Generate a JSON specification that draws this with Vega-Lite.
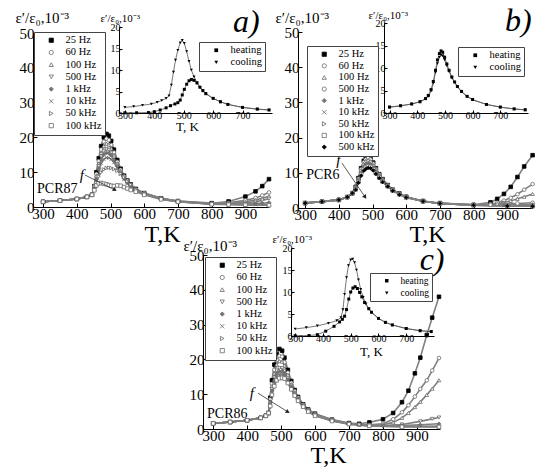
{
  "$schema": "https://vega.github.io/schema/vega-lite/v6.json",
  "width": 550,
  "height": 473,
  "autosize": "none",
  "padding": 0,
  "background": "white",
  "config": {
    "font": "Liberation Serif",
    "view": {"stroke": null},
    "axis": {"grid": false, "labelFont": "Liberation Serif", "titleFont": "Liberation Serif", "labelColor": "black", "titleColor": "black", "domainColor": "black", "tickColor": "black", "titleFontWeight": "normal", "labelFlush": false, "labelOverlap": false, "titleAngle": 0, "titlePadding": 0},
    "legend": {"orient": "none", "title": null, "labelFont": "Liberation Serif", "labelFontSize": 10.5, "labelColor": "black", "symbolSize": 18, "strokeColor": "#444", "fillColor": "white", "padding": 3, "rowPadding": 1.2, "symbolOffset": 9, "labelOffset": 9, "symbolStrokeWidth": 0.8}
  },
  "datasets": {
    "a": [
      {"f":"25 Hz","T":300,"e":1.5},{"f":"25 Hz","T":350,"e":1.85},{"f":"25 Hz","T":400,"e":2.3},{"f":"25 Hz","T":430,"e":2.9},{"f":"25 Hz","T":445,"e":3.5},{"f":"25 Hz","T":452,"e":6},{"f":"25 Hz","T":458,"e":10},{"f":"25 Hz","T":465,"e":14},{"f":"25 Hz","T":472,"e":17.5},{"f":"25 Hz","T":480,"e":20},{"f":"25 Hz","T":488,"e":21},{"f":"25 Hz","T":495,"e":20.5},{"f":"25 Hz","T":502,"e":19},{"f":"25 Hz","T":510,"e":16.5},{"f":"25 Hz","T":520,"e":13.5},{"f":"25 Hz","T":530,"e":11},{"f":"25 Hz","T":540,"e":9},{"f":"25 Hz","T":550,"e":7.6},{"f":"25 Hz","T":560,"e":6.5},{"f":"25 Hz","T":575,"e":5.2},{"f":"25 Hz","T":600,"e":4},{"f":"25 Hz","T":650,"e":2.5},{"f":"25 Hz","T":700,"e":1.7},{"f":"25 Hz","T":800,"e":1.1},{"f":"25 Hz","T":850,"e":1.6},{"f":"25 Hz","T":900,"e":3},{"f":"25 Hz","T":930,"e":4.5},{"f":"25 Hz","T":950,"e":6},{"f":"25 Hz","T":970,"e":8},
      {"f":"60 Hz","T":300,"e":1.5},{"f":"60 Hz","T":350,"e":1.85},{"f":"60 Hz","T":400,"e":2.3},{"f":"60 Hz","T":430,"e":2.9},{"f":"60 Hz","T":445,"e":3.5},{"f":"60 Hz","T":452,"e":6},{"f":"60 Hz","T":458,"e":9.5},{"f":"60 Hz","T":465,"e":13.2},{"f":"60 Hz","T":472,"e":16.5},{"f":"60 Hz","T":480,"e":18.8},{"f":"60 Hz","T":488,"e":19.6},{"f":"60 Hz","T":495,"e":19.2},{"f":"60 Hz","T":502,"e":17.8},{"f":"60 Hz","T":510,"e":15.7},{"f":"60 Hz","T":520,"e":13},{"f":"60 Hz","T":530,"e":10.7},{"f":"60 Hz","T":540,"e":8.8},{"f":"60 Hz","T":550,"e":7.5},{"f":"60 Hz","T":560,"e":6.4},{"f":"60 Hz","T":575,"e":5.1},{"f":"60 Hz","T":600,"e":4},{"f":"60 Hz","T":650,"e":2.5},{"f":"60 Hz","T":700,"e":1.7},{"f":"60 Hz","T":800,"e":1},{"f":"60 Hz","T":850,"e":1.2},{"f":"60 Hz","T":900,"e":1.9},{"f":"60 Hz","T":930,"e":2.6},{"f":"60 Hz","T":950,"e":3.3},{"f":"60 Hz","T":970,"e":4.2},
      {"f":"100 Hz","T":300,"e":1.5},{"f":"100 Hz","T":350,"e":1.85},{"f":"100 Hz","T":400,"e":2.3},{"f":"100 Hz","T":430,"e":2.9},{"f":"100 Hz","T":445,"e":3.5},{"f":"100 Hz","T":452,"e":5.8},{"f":"100 Hz","T":458,"e":9},{"f":"100 Hz","T":465,"e":12.5},{"f":"100 Hz","T":472,"e":15.5},{"f":"100 Hz","T":480,"e":17.5},{"f":"100 Hz","T":488,"e":18.2},{"f":"100 Hz","T":495,"e":17.9},{"f":"100 Hz","T":502,"e":16.8},{"f":"100 Hz","T":510,"e":15},{"f":"100 Hz","T":520,"e":12.6},{"f":"100 Hz","T":530,"e":10.4},{"f":"100 Hz","T":540,"e":8.6},{"f":"100 Hz","T":550,"e":7.3},{"f":"100 Hz","T":560,"e":6.3},{"f":"100 Hz","T":575,"e":5},{"f":"100 Hz","T":600,"e":3.9},{"f":"100 Hz","T":650,"e":2.5},{"f":"100 Hz","T":700,"e":1.6},{"f":"100 Hz","T":800,"e":1},{"f":"100 Hz","T":850,"e":1.1},{"f":"100 Hz","T":900,"e":1.5},{"f":"100 Hz","T":930,"e":2},{"f":"100 Hz","T":950,"e":2.5},{"f":"100 Hz","T":970,"e":3.1},
      {"f":"500 Hz","T":300,"e":1.5},{"f":"500 Hz","T":350,"e":1.85},{"f":"500 Hz","T":400,"e":2.3},{"f":"500 Hz","T":430,"e":2.9},{"f":"500 Hz","T":445,"e":3.5},{"f":"500 Hz","T":452,"e":5.6},{"f":"500 Hz","T":458,"e":8.5},{"f":"500 Hz","T":465,"e":11.8},{"f":"500 Hz","T":472,"e":14.5},{"f":"500 Hz","T":480,"e":16},{"f":"500 Hz","T":488,"e":16.6},{"f":"500 Hz","T":495,"e":16.4},{"f":"500 Hz","T":502,"e":15.6},{"f":"500 Hz","T":510,"e":14.2},{"f":"500 Hz","T":520,"e":12.1},{"f":"500 Hz","T":530,"e":10.1},{"f":"500 Hz","T":540,"e":8.4},{"f":"500 Hz","T":550,"e":7.1},{"f":"500 Hz","T":560,"e":6.1},{"f":"500 Hz","T":575,"e":4.9},{"f":"500 Hz","T":600,"e":3.8},{"f":"500 Hz","T":650,"e":2.4},{"f":"500 Hz","T":700,"e":1.6},{"f":"500 Hz","T":800,"e":0.9},{"f":"500 Hz","T":850,"e":1},{"f":"500 Hz","T":900,"e":1.2},{"f":"500 Hz","T":930,"e":1.5},{"f":"500 Hz","T":950,"e":1.9},{"f":"500 Hz","T":970,"e":2.4},
      {"f":"1 kHz","T":300,"e":1.5},{"f":"1 kHz","T":350,"e":1.85},{"f":"1 kHz","T":400,"e":2.3},{"f":"1 kHz","T":430,"e":2.9},{"f":"1 kHz","T":445,"e":3.5},{"f":"1 kHz","T":452,"e":5.4},{"f":"1 kHz","T":458,"e":8},{"f":"1 kHz","T":465,"e":11},{"f":"1 kHz","T":472,"e":13.6},{"f":"1 kHz","T":480,"e":15},{"f":"1 kHz","T":488,"e":15.6},{"f":"1 kHz","T":495,"e":15.4},{"f":"1 kHz","T":502,"e":14.8},{"f":"1 kHz","T":510,"e":13.6},{"f":"1 kHz","T":520,"e":11.7},{"f":"1 kHz","T":530,"e":9.8},{"f":"1 kHz","T":540,"e":8.2},{"f":"1 kHz","T":550,"e":7},{"f":"1 kHz","T":560,"e":6},{"f":"1 kHz","T":575,"e":4.8},{"f":"1 kHz","T":600,"e":3.7},{"f":"1 kHz","T":650,"e":2.4},{"f":"1 kHz","T":700,"e":1.6},{"f":"1 kHz","T":800,"e":0.9},{"f":"1 kHz","T":850,"e":0.9},{"f":"1 kHz","T":900,"e":0.9},{"f":"1 kHz","T":930,"e":1},{"f":"1 kHz","T":950,"e":1.1},{"f":"1 kHz","T":970,"e":1.3},
      {"f":"10 kHz","T":300,"e":1.5},{"f":"10 kHz","T":350,"e":1.85},{"f":"10 kHz","T":400,"e":2.3},{"f":"10 kHz","T":430,"e":2.9},{"f":"10 kHz","T":445,"e":3.5},{"f":"10 kHz","T":452,"e":5.2},{"f":"10 kHz","T":458,"e":7.5},{"f":"10 kHz","T":465,"e":10.2},{"f":"10 kHz","T":472,"e":12.5},{"f":"10 kHz","T":480,"e":13.7},{"f":"10 kHz","T":488,"e":14.2},{"f":"10 kHz","T":495,"e":14.1},{"f":"10 kHz","T":502,"e":13.7},{"f":"10 kHz","T":510,"e":12.8},{"f":"10 kHz","T":520,"e":11.2},{"f":"10 kHz","T":530,"e":9.5},{"f":"10 kHz","T":540,"e":8},{"f":"10 kHz","T":550,"e":6.8},{"f":"10 kHz","T":560,"e":5.9},{"f":"10 kHz","T":575,"e":4.7},{"f":"10 kHz","T":600,"e":3.6},{"f":"10 kHz","T":650,"e":2.3},{"f":"10 kHz","T":700,"e":1.5},{"f":"10 kHz","T":800,"e":0.9},{"f":"10 kHz","T":850,"e":0.8},{"f":"10 kHz","T":900,"e":0.8},{"f":"10 kHz","T":930,"e":0.7},{"f":"10 kHz","T":970,"e":0.7},
      {"f":"50 kHz","T":300,"e":1.5},{"f":"50 kHz","T":350,"e":1.85},{"f":"50 kHz","T":400,"e":2.3},{"f":"50 kHz","T":430,"e":2.9},{"f":"50 kHz","T":445,"e":3.5},{"f":"50 kHz","T":452,"e":5},{"f":"50 kHz","T":458,"e":7},{"f":"50 kHz","T":465,"e":8.8},{"f":"50 kHz","T":472,"e":10},{"f":"50 kHz","T":480,"e":10.8},{"f":"50 kHz","T":488,"e":11.2},{"f":"50 kHz","T":495,"e":11.3},{"f":"50 kHz","T":502,"e":11.2},{"f":"50 kHz","T":510,"e":10.9},{"f":"50 kHz","T":520,"e":10.4},{"f":"50 kHz","T":530,"e":9.6},{"f":"50 kHz","T":540,"e":8.6},{"f":"50 kHz","T":550,"e":7.4},{"f":"50 kHz","T":560,"e":6.4},{"f":"50 kHz","T":575,"e":5},{"f":"50 kHz","T":600,"e":3.7},{"f":"50 kHz","T":650,"e":2.3},{"f":"50 kHz","T":700,"e":1.5},{"f":"50 kHz","T":800,"e":0.8},{"f":"50 kHz","T":850,"e":0.7},{"f":"50 kHz","T":900,"e":0.6},{"f":"50 kHz","T":970,"e":0.6},
      {"f":"100 kHz","T":300,"e":1.5},{"f":"100 kHz","T":350,"e":1.85},{"f":"100 kHz","T":400,"e":2.3},{"f":"100 kHz","T":430,"e":2.9},{"f":"100 kHz","T":445,"e":3.5},{"f":"100 kHz","T":452,"e":4.8},{"f":"100 kHz","T":458,"e":6.2},{"f":"100 kHz","T":465,"e":6.8},{"f":"100 kHz","T":472,"e":6.9},{"f":"100 kHz","T":480,"e":6.7},{"f":"100 kHz","T":488,"e":6.5},{"f":"100 kHz","T":495,"e":6.3},{"f":"100 kHz","T":502,"e":6.1},{"f":"100 kHz","T":510,"e":6},{"f":"100 kHz","T":520,"e":6.2},{"f":"100 kHz","T":530,"e":6.1},{"f":"100 kHz","T":540,"e":5.7},{"f":"100 kHz","T":550,"e":5.3},{"f":"100 kHz","T":560,"e":4.9},{"f":"100 kHz","T":575,"e":4.4},{"f":"100 kHz","T":600,"e":3.5},{"f":"100 kHz","T":650,"e":2.2},{"f":"100 kHz","T":700,"e":1.5},{"f":"100 kHz","T":800,"e":0.8},{"f":"100 kHz","T":850,"e":0.7},{"f":"100 kHz","T":900,"e":0.6},{"f":"100 kHz","T":970,"e":0.5}
    ],
    "ai": [
      {"m":"cooling","T":300,"e":1.3},{"m":"cooling","T":330,"e":1.5},{"m":"cooling","T":360,"e":1.8},{"m":"cooling","T":390,"e":2.1},{"m":"cooling","T":410,"e":2.5},{"m":"cooling","T":425,"e":2.9},{"m":"cooling","T":440,"e":3.4},{"m":"cooling","T":450,"e":4},{"m":"cooling","T":458,"e":6.5},{"m":"cooling","T":465,"e":9.5},{"m":"cooling","T":472,"e":12.3},{"m":"cooling","T":480,"e":14.6},{"m":"cooling","T":488,"e":16.3},{"m":"cooling","T":495,"e":16.9},{"m":"cooling","T":502,"e":16.2},{"m":"cooling","T":510,"e":14.3},{"m":"cooling","T":518,"e":12},{"m":"cooling","T":526,"e":10},{"m":"cooling","T":535,"e":8.4},{"m":"cooling","T":545,"e":7},{"m":"cooling","T":555,"e":6},{"m":"cooling","T":565,"e":5.2},{"m":"cooling","T":575,"e":4.5},{"m":"cooling","T":600,"e":3.4},{"m":"cooling","T":625,"e":2.6},{"m":"cooling","T":650,"e":2},{"m":"cooling","T":700,"e":1.3},{"m":"cooling","T":750,"e":0.9},{"m":"cooling","T":790,"e":0.7},
      {"m":"heating","T":300,"e":0.05},{"m":"heating","T":340,"e":0.05},{"m":"heating","T":380,"e":0.1},{"m":"heating","T":400,"e":0.3},{"m":"heating","T":420,"e":0.7},{"m":"heating","T":440,"e":1.2},{"m":"heating","T":455,"e":1.7},{"m":"heating","T":470,"e":2.1},{"m":"heating","T":480,"e":2.4},{"m":"heating","T":488,"e":3},{"m":"heating","T":495,"e":4.2},{"m":"heating","T":502,"e":5.5},{"m":"heating","T":510,"e":6.7},{"m":"heating","T":518,"e":7.5},{"m":"heating","T":526,"e":7.8},{"m":"heating","T":535,"e":7.6},{"m":"heating","T":545,"e":7},{"m":"heating","T":555,"e":6},{"m":"heating","T":565,"e":5.2},{"m":"heating","T":575,"e":4.5},{"m":"heating","T":600,"e":3.4},{"m":"heating","T":625,"e":2.6},{"m":"heating","T":650,"e":2},{"m":"heating","T":700,"e":1.3},{"m":"heating","T":750,"e":0.9},{"m":"heating","T":790,"e":0.7}
    ],
    "b": [
      {"f":"25 Hz","T":300,"e":1.4},{"f":"25 Hz","T":350,"e":1.8},{"f":"25 Hz","T":400,"e":2.3},{"f":"25 Hz","T":425,"e":3.1},{"f":"25 Hz","T":440,"e":4.2},{"f":"25 Hz","T":450,"e":6},{"f":"25 Hz","T":458,"e":8.5},{"f":"25 Hz","T":466,"e":11.3},{"f":"25 Hz","T":474,"e":13.4},{"f":"25 Hz","T":480,"e":14.3},{"f":"25 Hz","T":487,"e":14.7},{"f":"25 Hz","T":494,"e":14.2},{"f":"25 Hz","T":502,"e":12.9},{"f":"25 Hz","T":510,"e":11.3},{"f":"25 Hz","T":520,"e":9.6},{"f":"25 Hz","T":530,"e":8.2},{"f":"25 Hz","T":545,"e":6.5},{"f":"25 Hz","T":560,"e":5.2},{"f":"25 Hz","T":580,"e":4.1},{"f":"25 Hz","T":600,"e":3.2},{"f":"25 Hz","T":650,"e":2},{"f":"25 Hz","T":700,"e":1.4},{"f":"25 Hz","T":800,"e":0.9},{"f":"25 Hz","T":850,"e":1.6},{"f":"25 Hz","T":870,"e":2.6},{"f":"25 Hz","T":890,"e":4},{"f":"25 Hz","T":910,"e":6},{"f":"25 Hz","T":930,"e":8.8},{"f":"25 Hz","T":950,"e":11.8},{"f":"25 Hz","T":975,"e":15},
      {"f":"60 Hz","T":300,"e":1.4},{"f":"60 Hz","T":350,"e":1.8},{"f":"60 Hz","T":400,"e":2.3},{"f":"60 Hz","T":425,"e":3.1},{"f":"60 Hz","T":440,"e":4.2},{"f":"60 Hz","T":450,"e":5.9},{"f":"60 Hz","T":458,"e":8.3},{"f":"60 Hz","T":466,"e":11},{"f":"60 Hz","T":474,"e":13},{"f":"60 Hz","T":480,"e":13.8},{"f":"60 Hz","T":487,"e":14.2},{"f":"60 Hz","T":494,"e":13.8},{"f":"60 Hz","T":502,"e":12.6},{"f":"60 Hz","T":510,"e":11.1},{"f":"60 Hz","T":520,"e":9.5},{"f":"60 Hz","T":530,"e":8.1},{"f":"60 Hz","T":545,"e":6.4},{"f":"60 Hz","T":560,"e":5.1},{"f":"60 Hz","T":580,"e":4},{"f":"60 Hz","T":600,"e":3.1},{"f":"60 Hz","T":650,"e":1.9},{"f":"60 Hz","T":700,"e":1.3},{"f":"60 Hz","T":800,"e":0.9},{"f":"60 Hz","T":850,"e":1.1},{"f":"60 Hz","T":870,"e":1.5},{"f":"60 Hz","T":890,"e":2.1},{"f":"60 Hz","T":910,"e":2.9},{"f":"60 Hz","T":930,"e":3.9},{"f":"60 Hz","T":950,"e":5.2},{"f":"60 Hz","T":975,"e":6.8},
      {"f":"100 Hz","T":300,"e":1.4},{"f":"100 Hz","T":350,"e":1.8},{"f":"100 Hz","T":400,"e":2.3},{"f":"100 Hz","T":425,"e":3.1},{"f":"100 Hz","T":440,"e":4.2},{"f":"100 Hz","T":450,"e":5.8},{"f":"100 Hz","T":458,"e":8.1},{"f":"100 Hz","T":466,"e":10.7},{"f":"100 Hz","T":474,"e":12.6},{"f":"100 Hz","T":480,"e":13.4},{"f":"100 Hz","T":487,"e":13.7},{"f":"100 Hz","T":494,"e":13.3},{"f":"100 Hz","T":502,"e":12.2},{"f":"100 Hz","T":510,"e":10.9},{"f":"100 Hz","T":520,"e":9.3},{"f":"100 Hz","T":530,"e":8},{"f":"100 Hz","T":545,"e":6.4},{"f":"100 Hz","T":560,"e":5.1},{"f":"100 Hz","T":580,"e":4},{"f":"100 Hz","T":600,"e":3.1},{"f":"100 Hz","T":650,"e":1.9},{"f":"100 Hz","T":700,"e":1.3},{"f":"100 Hz","T":800,"e":0.9},{"f":"100 Hz","T":850,"e":1},{"f":"100 Hz","T":870,"e":1.2},{"f":"100 Hz","T":890,"e":1.6},{"f":"100 Hz","T":910,"e":2},{"f":"100 Hz","T":930,"e":2.6},{"f":"100 Hz","T":950,"e":3.2},{"f":"100 Hz","T":975,"e":4},
      {"f":"500 Hz","T":300,"e":1.4},{"f":"500 Hz","T":350,"e":1.8},{"f":"500 Hz","T":400,"e":2.3},{"f":"500 Hz","T":425,"e":3.1},{"f":"500 Hz","T":440,"e":4.2},{"f":"500 Hz","T":450,"e":5.7},{"f":"500 Hz","T":458,"e":7.9},{"f":"500 Hz","T":466,"e":10.4},{"f":"500 Hz","T":474,"e":12.2},{"f":"500 Hz","T":480,"e":12.9},{"f":"500 Hz","T":487,"e":13.2},{"f":"500 Hz","T":494,"e":12.9},{"f":"500 Hz","T":502,"e":11.9},{"f":"500 Hz","T":510,"e":10.6},{"f":"500 Hz","T":520,"e":9.1},{"f":"500 Hz","T":530,"e":7.9},{"f":"500 Hz","T":545,"e":6.4},{"f":"500 Hz","T":560,"e":5.1},{"f":"500 Hz","T":580,"e":4},{"f":"500 Hz","T":600,"e":3.1},{"f":"500 Hz","T":650,"e":1.9},{"f":"500 Hz","T":700,"e":1.3},{"f":"500 Hz","T":800,"e":0.9},{"f":"500 Hz","T":850,"e":0.9},{"f":"500 Hz","T":890,"e":1.1},{"f":"500 Hz","T":930,"e":1.3},{"f":"500 Hz","T":975,"e":1.5},
      {"f":"1 kHz","T":300,"e":1.4},{"f":"1 kHz","T":350,"e":1.8},{"f":"1 kHz","T":400,"e":2.3},{"f":"1 kHz","T":425,"e":3.1},{"f":"1 kHz","T":440,"e":4.2},{"f":"1 kHz","T":450,"e":5.6},{"f":"1 kHz","T":458,"e":7.8},{"f":"1 kHz","T":466,"e":10.1},{"f":"1 kHz","T":474,"e":11.8},{"f":"1 kHz","T":480,"e":12.5},{"f":"1 kHz","T":487,"e":12.8},{"f":"1 kHz","T":494,"e":12.5},{"f":"1 kHz","T":502,"e":11.6},{"f":"1 kHz","T":510,"e":10.4},{"f":"1 kHz","T":520,"e":9},{"f":"1 kHz","T":530,"e":7.8},{"f":"1 kHz","T":545,"e":6.3},{"f":"1 kHz","T":560,"e":5.1},{"f":"1 kHz","T":580,"e":4},{"f":"1 kHz","T":600,"e":3.1},{"f":"1 kHz","T":650,"e":1.9},{"f":"1 kHz","T":700,"e":1.3},{"f":"1 kHz","T":800,"e":0.8},{"f":"1 kHz","T":890,"e":0.9},{"f":"1 kHz","T":975,"e":1},
      {"f":"10 kHz","T":300,"e":1.4},{"f":"10 kHz","T":350,"e":1.8},{"f":"10 kHz","T":400,"e":2.3},{"f":"10 kHz","T":425,"e":3.1},{"f":"10 kHz","T":440,"e":4.2},{"f":"10 kHz","T":450,"e":5.5},{"f":"10 kHz","T":458,"e":7.6},{"f":"10 kHz","T":466,"e":9.9},{"f":"10 kHz","T":474,"e":11.5},{"f":"10 kHz","T":480,"e":12.1},{"f":"10 kHz","T":487,"e":12.4},{"f":"10 kHz","T":494,"e":12.2},{"f":"10 kHz","T":502,"e":11.4},{"f":"10 kHz","T":510,"e":10.2},{"f":"10 kHz","T":520,"e":8.9},{"f":"10 kHz","T":530,"e":7.7},{"f":"10 kHz","T":545,"e":6.3},{"f":"10 kHz","T":560,"e":5},{"f":"10 kHz","T":580,"e":3.9},{"f":"10 kHz","T":600,"e":3},{"f":"10 kHz","T":650,"e":1.9},{"f":"10 kHz","T":700,"e":1.3},{"f":"10 kHz","T":800,"e":0.8},{"f":"10 kHz","T":890,"e":0.7},{"f":"10 kHz","T":975,"e":0.7},
      {"f":"50 kHz","T":300,"e":1.4},{"f":"50 kHz","T":350,"e":1.8},{"f":"50 kHz","T":400,"e":2.3},{"f":"50 kHz","T":425,"e":3.1},{"f":"50 kHz","T":440,"e":4.2},{"f":"50 kHz","T":450,"e":5.4},{"f":"50 kHz","T":458,"e":7.5},{"f":"50 kHz","T":466,"e":9.7},{"f":"50 kHz","T":474,"e":11.2},{"f":"50 kHz","T":480,"e":11.8},{"f":"50 kHz","T":487,"e":12.1},{"f":"50 kHz","T":494,"e":11.9},{"f":"50 kHz","T":502,"e":11.2},{"f":"50 kHz","T":510,"e":10.1},{"f":"50 kHz","T":520,"e":8.8},{"f":"50 kHz","T":530,"e":7.6},{"f":"50 kHz","T":545,"e":6.2},{"f":"50 kHz","T":560,"e":5},{"f":"50 kHz","T":580,"e":3.9},{"f":"50 kHz","T":600,"e":3},{"f":"50 kHz","T":650,"e":1.9},{"f":"50 kHz","T":700,"e":1.3},{"f":"50 kHz","T":800,"e":0.8},{"f":"50 kHz","T":900,"e":0.6},{"f":"50 kHz","T":975,"e":0.5},
      {"f":"100 kHz","T":300,"e":1.4},{"f":"100 kHz","T":350,"e":1.8},{"f":"100 kHz","T":400,"e":2.3},{"f":"100 kHz","T":425,"e":3.1},{"f":"100 kHz","T":440,"e":4.2},{"f":"100 kHz","T":450,"e":5.3},{"f":"100 kHz","T":458,"e":7.4},{"f":"100 kHz","T":466,"e":9.5},{"f":"100 kHz","T":474,"e":11},{"f":"100 kHz","T":480,"e":11.5},{"f":"100 kHz","T":487,"e":11.8},{"f":"100 kHz","T":494,"e":11.7},{"f":"100 kHz","T":502,"e":11},{"f":"100 kHz","T":510,"e":9.9},{"f":"100 kHz","T":520,"e":8.7},{"f":"100 kHz","T":530,"e":7.5},{"f":"100 kHz","T":545,"e":6.2},{"f":"100 kHz","T":560,"e":5},{"f":"100 kHz","T":580,"e":3.9},{"f":"100 kHz","T":600,"e":3},{"f":"100 kHz","T":650,"e":1.9},{"f":"100 kHz","T":700,"e":1.3},{"f":"100 kHz","T":800,"e":0.8},{"f":"100 kHz","T":900,"e":0.6},{"f":"100 kHz","T":975,"e":0.5},
      {"f":"500 kHz","T":300,"e":1.4},{"f":"500 kHz","T":350,"e":1.8},{"f":"500 kHz","T":400,"e":2.3},{"f":"500 kHz","T":425,"e":3.1},{"f":"500 kHz","T":440,"e":4.2},{"f":"500 kHz","T":450,"e":5.2},{"f":"500 kHz","T":458,"e":7.2},{"f":"500 kHz","T":466,"e":9.2},{"f":"500 kHz","T":474,"e":10.6},{"f":"500 kHz","T":480,"e":11.1},{"f":"500 kHz","T":487,"e":11.4},{"f":"500 kHz","T":494,"e":11.3},{"f":"500 kHz","T":502,"e":10.7},{"f":"500 kHz","T":510,"e":9.7},{"f":"500 kHz","T":520,"e":8.5},{"f":"500 kHz","T":530,"e":7.4},{"f":"500 kHz","T":545,"e":6.1},{"f":"500 kHz","T":560,"e":4.9},{"f":"500 kHz","T":580,"e":3.8},{"f":"500 kHz","T":600,"e":3},{"f":"500 kHz","T":650,"e":1.9},{"f":"500 kHz","T":700,"e":1.3},{"f":"500 kHz","T":800,"e":0.8},{"f":"500 kHz","T":900,"e":0.6},{"f":"500 kHz","T":975,"e":0.5}
    ],
    "bi": [
      {"m":"heating","T":300,"e":1.3},{"m":"heating","T":340,"e":1.6},{"m":"heating","T":380,"e":2},{"m":"heating","T":410,"e":2.5},{"m":"heating","T":430,"e":3.2},{"m":"heating","T":440,"e":3.9},{"m":"heating","T":450,"e":5.2},{"m":"heating","T":458,"e":7},{"m":"heating","T":466,"e":9.5},{"m":"heating","T":473,"e":11.8},{"m":"heating","T":480,"e":13.2},{"m":"heating","T":486,"e":13.8},{"m":"heating","T":492,"e":13.5},{"m":"heating","T":499,"e":12.4},{"m":"heating","T":507,"e":10.9},{"m":"heating","T":515,"e":9.5},{"m":"heating","T":525,"e":8},{"m":"heating","T":535,"e":6.9},{"m":"heating","T":545,"e":5.9},{"m":"heating","T":560,"e":4.8},{"m":"heating","T":580,"e":3.7},{"m":"heating","T":600,"e":3},{"m":"heating","T":650,"e":1.9},{"m":"heating","T":700,"e":1.3},{"m":"heating","T":750,"e":0.9},{"m":"heating","T":790,"e":0.7},
      {"m":"cooling","T":300,"e":1.3},{"m":"cooling","T":340,"e":1.6},{"m":"cooling","T":380,"e":2},{"m":"cooling","T":410,"e":2.5},{"m":"cooling","T":430,"e":3.1},{"m":"cooling","T":440,"e":3.7},{"m":"cooling","T":450,"e":4.9},{"m":"cooling","T":458,"e":6.6},{"m":"cooling","T":466,"e":9},{"m":"cooling","T":473,"e":11},{"m":"cooling","T":480,"e":12.4},{"m":"cooling","T":486,"e":12.9},{"m":"cooling","T":492,"e":12.7},{"m":"cooling","T":499,"e":11.8},{"m":"cooling","T":507,"e":10.5},{"m":"cooling","T":515,"e":9.2},{"m":"cooling","T":525,"e":7.8},{"m":"cooling","T":535,"e":6.8},{"m":"cooling","T":545,"e":5.8},{"m":"cooling","T":560,"e":4.7},{"m":"cooling","T":580,"e":3.7},{"m":"cooling","T":600,"e":2.9},{"m":"cooling","T":650,"e":1.9},{"m":"cooling","T":700,"e":1.3},{"m":"cooling","T":750,"e":0.9},{"m":"cooling","T":790,"e":0.7}
    ],
    "c": [
      {"f":"25 Hz","T":300,"e":1.6},{"f":"25 Hz","T":350,"e":2},{"f":"25 Hz","T":400,"e":2.5},{"f":"25 Hz","T":440,"e":3.2},{"f":"25 Hz","T":455,"e":3.8},{"f":"25 Hz","T":463,"e":4.6},{"f":"25 Hz","T":468,"e":9},{"f":"25 Hz","T":473,"e":14},{"f":"25 Hz","T":480,"e":18.5},{"f":"25 Hz","T":487,"e":21.5},{"f":"25 Hz","T":495,"e":23},{"f":"25 Hz","T":503,"e":22.5},{"f":"25 Hz","T":510,"e":20.5},{"f":"25 Hz","T":520,"e":17},{"f":"25 Hz","T":530,"e":13.8},{"f":"25 Hz","T":540,"e":11.2},{"f":"25 Hz","T":550,"e":9.2},{"f":"25 Hz","T":565,"e":7.1},{"f":"25 Hz","T":580,"e":5.6},{"f":"25 Hz","T":600,"e":4.4},{"f":"25 Hz","T":650,"e":2.7},{"f":"25 Hz","T":700,"e":1.7},{"f":"25 Hz","T":730,"e":1.5},{"f":"25 Hz","T":760,"e":1.9},{"f":"25 Hz","T":800,"e":2.8},{"f":"25 Hz","T":830,"e":4.6},{"f":"25 Hz","T":856,"e":7.7},{"f":"25 Hz","T":875,"e":11},{"f":"25 Hz","T":894,"e":16},{"f":"25 Hz","T":910,"e":20.5},{"f":"25 Hz","T":929,"e":27},{"f":"25 Hz","T":945,"e":32},{"f":"25 Hz","T":965,"e":38},
      {"f":"60 Hz","T":300,"e":1.6},{"f":"60 Hz","T":350,"e":2},{"f":"60 Hz","T":400,"e":2.5},{"f":"60 Hz","T":440,"e":3.2},{"f":"60 Hz","T":455,"e":3.8},{"f":"60 Hz","T":463,"e":4.6},{"f":"60 Hz","T":468,"e":8.5},{"f":"60 Hz","T":473,"e":13},{"f":"60 Hz","T":480,"e":17},{"f":"60 Hz","T":487,"e":19.8},{"f":"60 Hz","T":495,"e":21},{"f":"60 Hz","T":503,"e":20.8},{"f":"60 Hz","T":510,"e":19.2},{"f":"60 Hz","T":520,"e":16.2},{"f":"60 Hz","T":530,"e":13.3},{"f":"60 Hz","T":540,"e":10.9},{"f":"60 Hz","T":550,"e":9},{"f":"60 Hz","T":565,"e":7},{"f":"60 Hz","T":580,"e":5.5},{"f":"60 Hz","T":600,"e":4.3},{"f":"60 Hz","T":650,"e":2.6},{"f":"60 Hz","T":700,"e":1.6},{"f":"60 Hz","T":730,"e":1.3},{"f":"60 Hz","T":760,"e":1.2},{"f":"60 Hz","T":800,"e":1.5},{"f":"60 Hz","T":830,"e":2.8},{"f":"60 Hz","T":856,"e":4.8},{"f":"60 Hz","T":875,"e":6.8},{"f":"60 Hz","T":894,"e":9.3},{"f":"60 Hz","T":910,"e":11.5},{"f":"60 Hz","T":929,"e":14},{"f":"60 Hz","T":945,"e":16.8},{"f":"60 Hz","T":965,"e":20.4},
      {"f":"100 Hz","T":300,"e":1.6},{"f":"100 Hz","T":350,"e":2},{"f":"100 Hz","T":400,"e":2.5},{"f":"100 Hz","T":440,"e":3.2},{"f":"100 Hz","T":455,"e":3.8},{"f":"100 Hz","T":463,"e":4.6},{"f":"100 Hz","T":468,"e":8},{"f":"100 Hz","T":473,"e":12.3},{"f":"100 Hz","T":480,"e":16},{"f":"100 Hz","T":487,"e":18.5},{"f":"100 Hz","T":495,"e":19.5},{"f":"100 Hz","T":503,"e":19.4},{"f":"100 Hz","T":510,"e":18.2},{"f":"100 Hz","T":520,"e":15.6},{"f":"100 Hz","T":530,"e":12.9},{"f":"100 Hz","T":540,"e":10.6},{"f":"100 Hz","T":550,"e":8.8},{"f":"100 Hz","T":565,"e":6.9},{"f":"100 Hz","T":580,"e":5.4},{"f":"100 Hz","T":600,"e":4.2},{"f":"100 Hz","T":650,"e":2.6},{"f":"100 Hz","T":700,"e":1.6},{"f":"100 Hz","T":730,"e":1.2},{"f":"100 Hz","T":760,"e":1.1},{"f":"100 Hz","T":800,"e":1.2},{"f":"100 Hz","T":830,"e":1.9},{"f":"100 Hz","T":856,"e":3.2},{"f":"100 Hz","T":875,"e":4.6},{"f":"100 Hz","T":894,"e":6.3},{"f":"100 Hz","T":910,"e":7.8},{"f":"100 Hz","T":929,"e":9.8},{"f":"100 Hz","T":945,"e":11.6},{"f":"100 Hz","T":965,"e":14},
      {"f":"500 Hz","T":300,"e":1.6},{"f":"500 Hz","T":350,"e":2},{"f":"500 Hz","T":400,"e":2.5},{"f":"500 Hz","T":440,"e":3.2},{"f":"500 Hz","T":455,"e":3.8},{"f":"500 Hz","T":463,"e":4.6},{"f":"500 Hz","T":468,"e":7.5},{"f":"500 Hz","T":473,"e":11.5},{"f":"500 Hz","T":480,"e":14.8},{"f":"500 Hz","T":487,"e":16.8},{"f":"500 Hz","T":495,"e":17.5},{"f":"500 Hz","T":503,"e":17.5},{"f":"500 Hz","T":510,"e":16.7},{"f":"500 Hz","T":520,"e":14.7},{"f":"500 Hz","T":530,"e":12.4},{"f":"500 Hz","T":540,"e":10.3},{"f":"500 Hz","T":550,"e":8.6},{"f":"500 Hz","T":565,"e":6.8},{"f":"500 Hz","T":580,"e":5.3},{"f":"500 Hz","T":600,"e":4.1},{"f":"500 Hz","T":650,"e":2.5},{"f":"500 Hz","T":700,"e":1.5},{"f":"500 Hz","T":730,"e":1.2},{"f":"500 Hz","T":760,"e":1},{"f":"500 Hz","T":800,"e":1},{"f":"500 Hz","T":856,"e":1.3},{"f":"500 Hz","T":910,"e":2.2},{"f":"500 Hz","T":945,"e":2.9},{"f":"500 Hz","T":965,"e":3.3},
      {"f":"1 kHz","T":300,"e":1.6},{"f":"1 kHz","T":350,"e":2},{"f":"1 kHz","T":400,"e":2.5},{"f":"1 kHz","T":440,"e":3.2},{"f":"1 kHz","T":455,"e":3.8},{"f":"1 kHz","T":463,"e":4.6},{"f":"1 kHz","T":468,"e":7.2},{"f":"1 kHz","T":473,"e":11},{"f":"1 kHz","T":480,"e":14},{"f":"1 kHz","T":487,"e":15.9},{"f":"1 kHz","T":495,"e":16.5},{"f":"1 kHz","T":503,"e":16.6},{"f":"1 kHz","T":510,"e":16},{"f":"1 kHz","T":520,"e":14.2},{"f":"1 kHz","T":530,"e":12.1},{"f":"1 kHz","T":540,"e":10.1},{"f":"1 kHz","T":550,"e":8.5},{"f":"1 kHz","T":565,"e":6.7},{"f":"1 kHz","T":580,"e":5.2},{"f":"1 kHz","T":600,"e":4},{"f":"1 kHz","T":650,"e":2.5},{"f":"1 kHz","T":700,"e":1.5},{"f":"1 kHz","T":760,"e":1},{"f":"1 kHz","T":800,"e":0.9},{"f":"1 kHz","T":856,"e":1},{"f":"1 kHz","T":910,"e":1.2},{"f":"1 kHz","T":965,"e":1.5},
      {"f":"10 kHz","T":300,"e":1.6},{"f":"10 kHz","T":350,"e":2},{"f":"10 kHz","T":400,"e":2.5},{"f":"10 kHz","T":440,"e":3.2},{"f":"10 kHz","T":455,"e":3.8},{"f":"10 kHz","T":463,"e":4.6},{"f":"10 kHz","T":468,"e":7},{"f":"10 kHz","T":473,"e":10.5},{"f":"10 kHz","T":480,"e":13.3},{"f":"10 kHz","T":487,"e":15},{"f":"10 kHz","T":495,"e":15.6},{"f":"10 kHz","T":503,"e":15.7},{"f":"10 kHz","T":510,"e":15.3},{"f":"10 kHz","T":520,"e":13.8},{"f":"10 kHz","T":530,"e":11.8},{"f":"10 kHz","T":540,"e":9.9},{"f":"10 kHz","T":550,"e":8.3},{"f":"10 kHz","T":565,"e":6.6},{"f":"10 kHz","T":580,"e":5.1},{"f":"10 kHz","T":600,"e":3.9},{"f":"10 kHz","T":650,"e":2.4},{"f":"10 kHz","T":700,"e":1.5},{"f":"10 kHz","T":760,"e":0.9},{"f":"10 kHz","T":856,"e":0.8},{"f":"10 kHz","T":965,"e":0.8},
      {"f":"50 kHz","T":300,"e":1.6},{"f":"50 kHz","T":350,"e":2},{"f":"50 kHz","T":400,"e":2.5},{"f":"50 kHz","T":440,"e":3.2},{"f":"50 kHz","T":455,"e":3.8},{"f":"50 kHz","T":463,"e":4.6},{"f":"50 kHz","T":468,"e":6.8},{"f":"50 kHz","T":473,"e":10.2},{"f":"50 kHz","T":480,"e":12.8},{"f":"50 kHz","T":487,"e":14.5},{"f":"50 kHz","T":495,"e":15.1},{"f":"50 kHz","T":503,"e":15.2},{"f":"50 kHz","T":510,"e":14.9},{"f":"50 kHz","T":520,"e":13.5},{"f":"50 kHz","T":530,"e":11.6},{"f":"50 kHz","T":540,"e":9.8},{"f":"50 kHz","T":550,"e":8.2},{"f":"50 kHz","T":565,"e":6.5},{"f":"50 kHz","T":580,"e":5.1},{"f":"50 kHz","T":600,"e":3.9},{"f":"50 kHz","T":650,"e":2.4},{"f":"50 kHz","T":700,"e":1.4},{"f":"50 kHz","T":760,"e":0.9},{"f":"50 kHz","T":856,"e":0.7},{"f":"50 kHz","T":965,"e":0.7},
      {"f":"100 kHz","T":300,"e":1.6},{"f":"100 kHz","T":350,"e":2},{"f":"100 kHz","T":400,"e":2.5},{"f":"100 kHz","T":440,"e":3.2},{"f":"100 kHz","T":455,"e":3.8},{"f":"100 kHz","T":463,"e":4.6},{"f":"100 kHz","T":468,"e":6.6},{"f":"100 kHz","T":473,"e":9.8},{"f":"100 kHz","T":480,"e":12.3},{"f":"100 kHz","T":487,"e":14},{"f":"100 kHz","T":495,"e":14.6},{"f":"100 kHz","T":503,"e":14.7},{"f":"100 kHz","T":510,"e":14.5},{"f":"100 kHz","T":520,"e":13.2},{"f":"100 kHz","T":530,"e":11.4},{"f":"100 kHz","T":540,"e":9.6},{"f":"100 kHz","T":550,"e":8.1},{"f":"100 kHz","T":565,"e":6.4},{"f":"100 kHz","T":580,"e":5},{"f":"100 kHz","T":600,"e":3.8},{"f":"100 kHz","T":650,"e":2.3},{"f":"100 kHz","T":700,"e":1.4},{"f":"100 kHz","T":760,"e":0.9},{"f":"100 kHz","T":856,"e":0.6},{"f":"100 kHz","T":965,"e":0.6}
    ],
    "ci": [
      {"m":"cooling","T":300,"e":1.6},{"m":"cooling","T":340,"e":1.9},{"m":"cooling","T":380,"e":2.3},{"m":"cooling","T":420,"e":2.9},{"m":"cooling","T":450,"e":3.5},{"m":"cooling","T":465,"e":4.2},{"m":"cooling","T":472,"e":6},{"m":"cooling","T":478,"e":9.5},{"m":"cooling","T":485,"e":13.3},{"m":"cooling","T":492,"e":16},{"m":"cooling","T":500,"e":17.3},{"m":"cooling","T":507,"e":17.5},{"m":"cooling","T":514,"e":16.7},{"m":"cooling","T":521,"e":15},{"m":"cooling","T":528,"e":12.8},{"m":"cooling","T":536,"e":10.6},{"m":"cooling","T":545,"e":8.8},{"m":"cooling","T":555,"e":7.3},{"m":"cooling","T":565,"e":6.2},{"m":"cooling","T":575,"e":5.4},{"m":"cooling","T":600,"e":4},{"m":"cooling","T":625,"e":3.1},{"m":"cooling","T":650,"e":2.5},{"m":"cooling","T":700,"e":1.7},{"m":"cooling","T":750,"e":1.2},{"m":"cooling","T":790,"e":1},
      {"m":"heating","T":300,"e":0.05},{"m":"heating","T":350,"e":0.1},{"m":"heating","T":380,"e":0.3},{"m":"heating","T":410,"e":1.1},{"m":"heating","T":440,"e":2.2},{"m":"heating","T":460,"e":3.2},{"m":"heating","T":470,"e":3.8},{"m":"heating","T":478,"e":4.5},{"m":"heating","T":485,"e":6},{"m":"heating","T":493,"e":8.4},{"m":"heating","T":500,"e":10},{"m":"heating","T":508,"e":10.9},{"m":"heating","T":516,"e":11.2},{"m":"heating","T":524,"e":10.8},{"m":"heating","T":532,"e":9.9},{"m":"heating","T":540,"e":8.9},{"m":"heating","T":550,"e":7.6},{"m":"heating","T":565,"e":6.2},{"m":"heating","T":575,"e":5.4},{"m":"heating","T":600,"e":4},{"m":"heating","T":625,"e":3.1},{"m":"heating","T":650,"e":2.5},{"m":"heating","T":700,"e":1.7},{"m":"heating","T":750,"e":1.2},{"m":"heating","T":790,"e":1}
    ]
  },
  "layer": [
    {
      "data": {"name": "a"},
      "encoding": {
        "x": {"field": "T", "type": "quantitative", "scale": {"domain": [270, 970], "range": [33, 269], "nice": false, "zero": false},
          "axis": {"orient": "bottom", "offset": -266, "values": [300, 400, 500, 600, 700, 800, 900], "labelFontSize": 15, "tickSize": -4, "labelPadding": 3, "title": "T,K", "titleFontSize": 24, "titleX": 162, "titleY": 34, "titleBaseline": "alphabetic", "titleAlign": "center"}},
        "y": {"field": "e", "type": "quantitative", "scale": {"domain": [0, 50], "range": [207, 33], "nice": false},
          "axis": {"orient": "left", "offset": -33, "values": [0, 10, 20, 30, 40, 50], "labelFontSize": 15, "tickSize": -4, "labelPadding": 3, "title": "ε′/ε₀,10⁻³", "titleFontSize": 15, "titleAlign": "left", "titleBaseline": "alphabetic", "titleX": -18, "titleY": 22}}
      },
      "layer": [
        {"mark": {"type": "line", "color": "#808080", "strokeWidth": 1.6}, "encoding": {"detail": {"field": "f"}}},
        {"mark": {"type": "point", "size": 13, "strokeWidth": 0.8, "opacity": 1},
          "encoding": {
            "shape": {"field": "f", "type": "nominal", "scale": {"domain": ["25 Hz", "60 Hz", "100 Hz", "500 Hz", "1 kHz", "10 kHz", "50 kHz", "100 kHz"], "range": ["square", "circle", "triangle-up", "triangle-down", "diamond", "M-1,-1L1,1M-1,1L1,-1", "triangle-right", "square"]}, "legend": {"title": null, "legendX": 34, "legendY": 32}},
            "fill": {"field": "f", "type": "nominal", "scale": {"domain": ["25 Hz", "60 Hz", "100 Hz", "500 Hz", "1 kHz", "10 kHz", "50 kHz", "100 kHz"], "range": ["black", "white", "white", "white", "#777", "white", "white", "white"]}, "legend": {"title": null, "legendX": 34, "legendY": 32}},
            "stroke": {"field": "f", "type": "nominal", "scale": {"domain": ["25 Hz", "60 Hz", "100 Hz", "500 Hz", "1 kHz", "10 kHz", "50 kHz", "100 kHz"], "range": ["black", "#6a6a6a", "#6a6a6a", "#6a6a6a", "#6a6a6a", "#6a6a6a", "#6a6a6a", "#6a6a6a"]}, "legend": {"title": null, "legendX": 34, "legendY": 32}}
          }},
        {"data": {"values": [{"T": 424, "e": 9.2, "T2": 513, "e2": 4.9}]}, "mark": {"type": "rule", "color": "#333", "strokeWidth": 0.8}, "encoding": {"x2": {"field": "T2"}, "y2": {"field": "e2"}}},
        {"data": {"values": [{"T": 513, "e": 4.9}]}, "mark": {"type": "point", "shape": "triangle-right", "angle": 27, "filled": true, "color": "#222", "size": 22, "opacity": 1}},
        {"data": {"values": [{"T": 282, "e": 4.0, "k": "PCR87"}]}, "mark": {"type": "text", "align": "left", "baseline": "alphabetic", "fontSize": 14, "font": "Liberation Serif", "color": "black"}, "encoding": {"text": {"field": "k"}}},
        {"data": {"values": [{"T": 409, "e": 7.8, "k": "f"}]}, "mark": {"type": "text", "align": "left", "baseline": "alphabetic", "fontSize": 15, "fontStyle": "italic", "font": "Liberation Serif", "color": "black"}, "encoding": {"text": {"field": "k"}}},
        {"data": {"values": [{"T": 863, "e": 50.3, "k": "a)"}]}, "mark": {"type": "text", "align": "left", "baseline": "alphabetic", "fontSize": 32, "fontStyle": "italic", "font": "Liberation Serif", "color": "black"}, "encoding": {"text": {"field": "k"}}}
      ]
    },
    {
      "data": {"name": "ai"},
      "encoding": {
        "x": {"field": "T", "type": "quantitative", "scale": {"domain": [280, 800], "range": [119, 272], "nice": false, "zero": false},
          "axis": {"orient": "bottom", "offset": -360, "values": [300, 400, 500, 600, 700], "labelFontSize": 10, "tickSize": -3, "labelPadding": 0, "title": "T, K", "titleFontSize": 13, "titleX": 187, "titleY": 17, "titleBaseline": "alphabetic", "titleAlign": "center"}},
        "y": {"field": "e", "type": "quantitative", "scale": {"domain": [0, 20], "range": [113, 27], "nice": false},
          "axis": {"orient": "left", "offset": -119, "values": [0, 5, 10, 15, 20], "labelFontSize": 10, "tickSize": -3, "labelPadding": 2, "title": "ε′/ε₀,10⁻³", "titleFontSize": 11, "titleAlign": "left", "titleBaseline": "alphabetic", "titleX": -19, "titleY": 21}}
      },
      "layer": [
        {"mark": {"type": "line", "color": "#555", "strokeWidth": 0.8}, "encoding": {"detail": {"field": "m"}}},
        {"mark": {"type": "point", "filled": true, "color": "black", "size": 9, "opacity": 1},
          "encoding": {"shape": {"field": "m", "type": "nominal", "scale": {"domain": ["heating", "cooling"], "range": ["square", "triangle-down"]}, "legend": {"title": null, "legendX": 199, "legendY": 42, "symbolSize": 14}}}}
      ]
    },
    {
      "data": {"name": "b"},
      "encoding": {
        "x": {"field": "T", "type": "quantitative", "scale": {"domain": [280, 975], "range": [298.4, 532.6], "nice": false, "zero": false},
          "axis": {"orient": "bottom", "offset": -265, "values": [300, 400, 500, 600, 700, 800, 900], "labelFontSize": 15, "tickSize": -4, "labelPadding": 3, "title": "T,K", "titleFontSize": 24, "titleX": 427, "titleY": 33, "titleBaseline": "alphabetic", "titleAlign": "center"}},
        "y": {"field": "e", "type": "quantitative", "scale": {"domain": [0, 50], "range": [208, 32], "nice": false},
          "axis": {"orient": "left", "offset": -298, "values": [0, 10, 20, 30, 40, 50], "labelFontSize": 15, "tickSize": -4, "labelPadding": 3, "title": "ε′/ε₀,10⁻³", "titleFontSize": 15, "titleAlign": "left", "titleBaseline": "alphabetic", "titleX": -23, "titleY": 22}}
      },
      "layer": [
        {"mark": {"type": "line", "color": "#808080", "strokeWidth": 1.6}, "encoding": {"detail": {"field": "f"}}},
        {"mark": {"type": "point", "size": 13, "strokeWidth": 0.8, "opacity": 1},
          "encoding": {
            "shape": {"field": "f", "type": "nominal", "scale": {"domain": ["25 Hz", "60 Hz", "100 Hz", "500 Hz", "1 kHz", "10 kHz", "50 kHz", "100 kHz", "500 kHz"], "range": ["square", "circle", "triangle-up", "circle", "diamond", "M-1,-1L1,1M-1,1L1,-1", "triangle-right", "square", "diamond"]}, "legend": {"title": null, "legendX": 307, "legendY": 46, "rowPadding": 0.6}},
            "fill": {"field": "f", "type": "nominal", "scale": {"domain": ["25 Hz", "60 Hz", "100 Hz", "500 Hz", "1 kHz", "10 kHz", "50 kHz", "100 kHz", "500 kHz"], "range": ["black", "white", "white", "white", "#777", "white", "white", "white", "black"]}, "legend": {"title": null, "legendX": 307, "legendY": 46, "rowPadding": 0.6}},
            "stroke": {"field": "f", "type": "nominal", "scale": {"domain": ["25 Hz", "60 Hz", "100 Hz", "500 Hz", "1 kHz", "10 kHz", "50 kHz", "100 kHz", "500 kHz"], "range": ["black", "#6a6a6a", "#6a6a6a", "#6a6a6a", "#6a6a6a", "#6a6a6a", "#6a6a6a", "#6a6a6a", "black"]}, "legend": {"title": null, "legendX": 307, "legendY": 46, "rowPadding": 0.6}}
          }},
        {"data": {"values": [{"T": 409, "e": 12.8, "T2": 478, "e2": 3.1}]}, "mark": {"type": "rule", "color": "#333", "strokeWidth": 0.8}, "encoding": {"x2": {"field": "T2"}, "y2": {"field": "e2"}}},
        {"data": {"values": [{"T": 478, "e": 3.1}]}, "mark": {"type": "point", "shape": "triangle-right", "angle": 56, "filled": true, "color": "#222", "size": 22, "opacity": 1}},
        {"data": {"values": [{"T": 303, "e": 8.2, "k": "PCR6"}]}, "mark": {"type": "text", "align": "left", "baseline": "alphabetic", "fontSize": 14, "font": "Liberation Serif", "color": "black"}, "encoding": {"text": {"field": "k"}}},
        {"data": {"values": [{"T": 392, "e": 12.2, "k": "f"}]}, "mark": {"type": "text", "align": "left", "baseline": "alphabetic", "fontSize": 15, "fontStyle": "italic", "font": "Liberation Serif", "color": "black"}, "encoding": {"text": {"field": "k"}}},
        {"data": {"values": [{"T": 893, "e": 50.3, "k": "b)"}]}, "mark": {"type": "text", "align": "left", "baseline": "alphabetic", "fontSize": 32, "fontStyle": "italic", "font": "Liberation Serif", "color": "black"}, "encoding": {"text": {"field": "k"}}}
      ]
    },
    {
      "data": {"name": "bi"},
      "encoding": {
        "x": {"field": "T", "type": "quantitative", "scale": {"domain": [280, 800], "range": [384, 528], "nice": false, "zero": false},
          "axis": {"orient": "bottom", "offset": -360, "values": [300, 400, 500, 600, 700], "labelFontSize": 10, "tickSize": -3, "labelPadding": 0, "title": null}},
        "y": {"field": "e", "type": "quantitative", "scale": {"domain": [0, 20], "range": [113, 23], "nice": false},
          "axis": {"orient": "left", "offset": -384, "values": [0, 5, 10, 15, 20], "labelFontSize": 10, "tickSize": -3, "labelPadding": 2, "title": "ε′/ε₀,10⁻³", "titleFontSize": 11, "titleAlign": "left", "titleBaseline": "alphabetic", "titleX": -16, "titleY": 18}}
      },
      "layer": [
        {"mark": {"type": "line", "color": "#555", "strokeWidth": 0.8}, "encoding": {"detail": {"field": "m"}}},
        {"mark": {"type": "point", "filled": true, "color": "black", "size": 9, "opacity": 1},
          "encoding": {"shape": {"field": "m", "type": "nominal", "scale": {"domain": ["heating", "cooling"], "range": ["square", "triangle-down"]}, "legend": {"title": null, "legendX": 458, "legendY": 47, "symbolSize": 14}}}}
      ]
    },
    {
      "data": {"name": "c"},
      "encoding": {
        "x": {"field": "T", "type": "quantitative", "scale": {"domain": [270, 968], "range": [203, 440], "nice": false, "zero": false},
          "axis": {"orient": "bottom", "offset": -44, "values": [300, 400, 500, 600, 700, 800, 900], "labelFontSize": 15, "tickSize": -4, "labelPadding": 3, "title": "T,K", "titleFontSize": 24, "titleX": 328, "titleY": 33, "titleBaseline": "alphabetic", "titleAlign": "center"}},
        "y": {"field": "e", "type": "quantitative", "scale": {"domain": [0, 50], "range": [429, 255], "nice": false},
          "axis": {"orient": "left", "offset": -203, "values": [0, 10, 20, 30, 40, 50], "labelFontSize": 15, "tickSize": -4, "labelPadding": 3, "title": "ε′/ε₀,10⁻³", "titleFontSize": 15, "titleAlign": "left", "titleBaseline": "alphabetic", "titleX": -20, "titleY": 250}}
      },
      "layer": [
        {"mark": {"type": "line", "color": "#808080", "strokeWidth": 1.6}, "encoding": {"detail": {"field": "f"}}},
        {"mark": {"type": "point", "size": 13, "strokeWidth": 0.8, "opacity": 1},
          "encoding": {
            "shape": {"field": "f", "type": "nominal", "scale": {"domain": ["25 Hz", "60 Hz", "100 Hz", "500 Hz", "1 kHz", "10 kHz", "50 kHz", "100 kHz"], "range": ["square", "circle", "triangle-up", "triangle-down", "diamond", "M-1,-1L1,1M-1,1L1,-1", "triangle-right", "square"]}, "legend": {"title": null, "legendX": 205, "legendY": 257}},
            "fill": {"field": "f", "type": "nominal", "scale": {"domain": ["25 Hz", "60 Hz", "100 Hz", "500 Hz", "1 kHz", "10 kHz", "50 kHz", "100 kHz"], "range": ["black", "white", "white", "white", "#777", "white", "white", "white"]}, "legend": {"title": null, "legendX": 205, "legendY": 257}},
            "stroke": {"field": "f", "type": "nominal", "scale": {"domain": ["25 Hz", "60 Hz", "100 Hz", "500 Hz", "1 kHz", "10 kHz", "50 kHz", "100 kHz"], "range": ["black", "#6a6a6a", "#6a6a6a", "#6a6a6a", "#6a6a6a", "#6a6a6a", "#6a6a6a", "#6a6a6a"]}, "legend": {"title": null, "legendX": 205, "legendY": 257}}
          }},
        {"data": {"values": [{"T": 432, "e": 10.3, "T2": 520, "e2": 4.9}]}, "mark": {"type": "rule", "color": "#333", "strokeWidth": 0.8}, "encoding": {"x2": {"field": "T2"}, "y2": {"field": "e2"}}},
        {"data": {"values": [{"T": 520, "e": 4.9}]}, "mark": {"type": "point", "shape": "triangle-right", "angle": 32, "filled": true, "color": "#222", "size": 22, "opacity": 1}},
        {"data": {"values": [{"T": 282, "e": 3.2, "k": "PCR86"}]}, "mark": {"type": "text", "align": "left", "baseline": "alphabetic", "fontSize": 14, "font": "Liberation Serif", "color": "black"}, "encoding": {"text": {"field": "k"}}},
        {"data": {"values": [{"T": 408, "e": 8.9, "k": "f"}]}, "mark": {"type": "text", "align": "left", "baseline": "alphabetic", "fontSize": 15, "fontStyle": "italic", "font": "Liberation Serif", "color": "black"}, "encoding": {"text": {"field": "k"}}},
        {"data": {"values": [{"T": 908, "e": 45.7, "k": "c)"}]}, "mark": {"type": "text", "align": "left", "baseline": "alphabetic", "fontSize": 32, "fontStyle": "italic", "font": "Liberation Serif", "color": "black"}, "encoding": {"text": {"field": "k"}}}
      ]
    },
    {
      "data": {"name": "ci"},
      "encoding": {
        "x": {"field": "T", "type": "quantitative", "scale": {"domain": [285, 800], "range": [291, 434], "nice": false, "zero": false},
          "axis": {"orient": "bottom", "offset": -137, "values": [300, 400, 500, 600, 700], "labelFontSize": 10, "tickSize": -3, "labelPadding": 0, "title": "T, K", "titleFontSize": 13, "titleX": 371, "titleY": 19, "titleBaseline": "alphabetic", "titleAlign": "center"}},
        "y": {"field": "e", "type": "quantitative", "scale": {"domain": [0, 20], "range": [336, 248], "nice": false},
          "axis": {"orient": "left", "offset": -291, "values": [0, 5, 10, 15, 20], "labelFontSize": 10, "tickSize": -3, "labelPadding": 2, "title": "ε′/ε₀,10⁻³", "titleFontSize": 11, "titleAlign": "left", "titleBaseline": "alphabetic", "titleX": -19, "titleY": 242}}
      },
      "layer": [
        {"mark": {"type": "line", "color": "#555", "strokeWidth": 0.8}, "encoding": {"detail": {"field": "m"}}},
        {"mark": {"type": "point", "filled": true, "color": "black", "size": 9, "opacity": 1},
          "encoding": {"shape": {"field": "m", "type": "nominal", "scale": {"domain": ["heating", "cooling"], "range": ["square", "triangle-down"]}, "legend": {"title": null, "legendX": 370, "legendY": 273, "symbolSize": 12, "labelFontSize": 9.5}}}}
      ]
    }
  ],
  "resolve": {
    "scale": {"x": "independent", "y": "independent", "shape": "independent", "fill": "independent", "stroke": "independent"},
    "axis": {"x": "independent", "y": "independent"},
    "legend": {"shape": "independent", "fill": "independent", "stroke": "independent"}
  }
}
